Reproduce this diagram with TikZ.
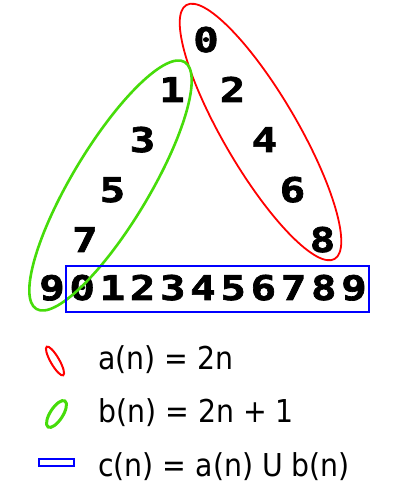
\documentclass[tikz,border=0pt]{standalone}
\usepackage{fontspec}
\setmainfont{DejaVu Sans}[FakeStretch=0.9]
\newfontfamily\digfont{DejaVu Sans Mono}[FakeStretch=1.25,BoldFeatures={FakeStretch=1.25,FakeBold=2}]
\definecolor{setred}{RGB}{255,0,0}
\definecolor{setgreen}{RGB}{70,220,10}
\definecolor{setblue}{RGB}{0,0,255}
\begin{document}
\begin{tikzpicture}[x=1bp,y=1bp,
  digit/.style={anchor=base,inner sep=0pt,font=\digfont\bfseries\fontsize{34bp}{34bp}\selectfont},
  legtext/.style={anchor=base west,inner sep=0pt,font=\fontsize{31.5bp}{31.5bp}\selectfont},
  redset/.style={draw=setred,line width=1.8bp},
  greenset/.style={draw=setgreen,line width=2.6bp},
  blueset/.style={draw=setblue,line width=2.5bp}]
\useasboundingbox (0,0) rectangle (402,487);
% diagonal digits
\node[digit] (d0) at (206,435) {0};
\node[digit] (d1) at (172,385) {1};
\node[digit] (d2) at (232.5,385) {2};
\node[digit] (d3) at (142.5,335) {3};
\node[digit] (d4) at (264.5,335) {4};
\node[digit] (d5) at (112.5,285) {5};
\node[digit] (d6) at (292.5,285) {6};
\node[digit] (d7) at (85,235) {7};
\node[digit] (d8) at (322.5,235) {8};
% bottom row
\foreach \d [count=\k from 0] in {9,0,1,2,3,4,5,6,7,8,9} {
  \node[digit] (r\k) at ({52+30.2*\k},187) {\d};
}
% sets
\draw[redset] (260.5,355) ellipse [x radius=147, y radius=37, rotate=-59.7];
\draw[greenset] (110.5,301.5) ellipse [x radius=144, y radius=38.5, rotate=59];
\coordinate (boxsw) at (66.2,175.2);
\coordinate (boxne) at (368.8,220.8);
\draw[blueset] (boxsw) rectangle (boxne);
% legend
\draw[redset,line width=2bp] (55,126) ellipse [x radius=16.5, y radius=4.3, rotate=-60];
\draw[greenset,line width=3bp] (56.5,73) ellipse [x radius=15.5, y radius=6.3, rotate=57];
\coordinate (legsw) at (39,21);
\coordinate (legne) at (74,28);
\draw[blueset,line width=2bp] (legsw) rectangle (legne);
\node[legtext] (la) at (98,117) {a(n) = 2n};
\node[legtext] (lb) at (98,64) {b(n) = 2n + 1};
\node[legtext] (lc) at (98,10) {c(n) = a(n) U b(n)};
\end{tikzpicture}
\end{document}
